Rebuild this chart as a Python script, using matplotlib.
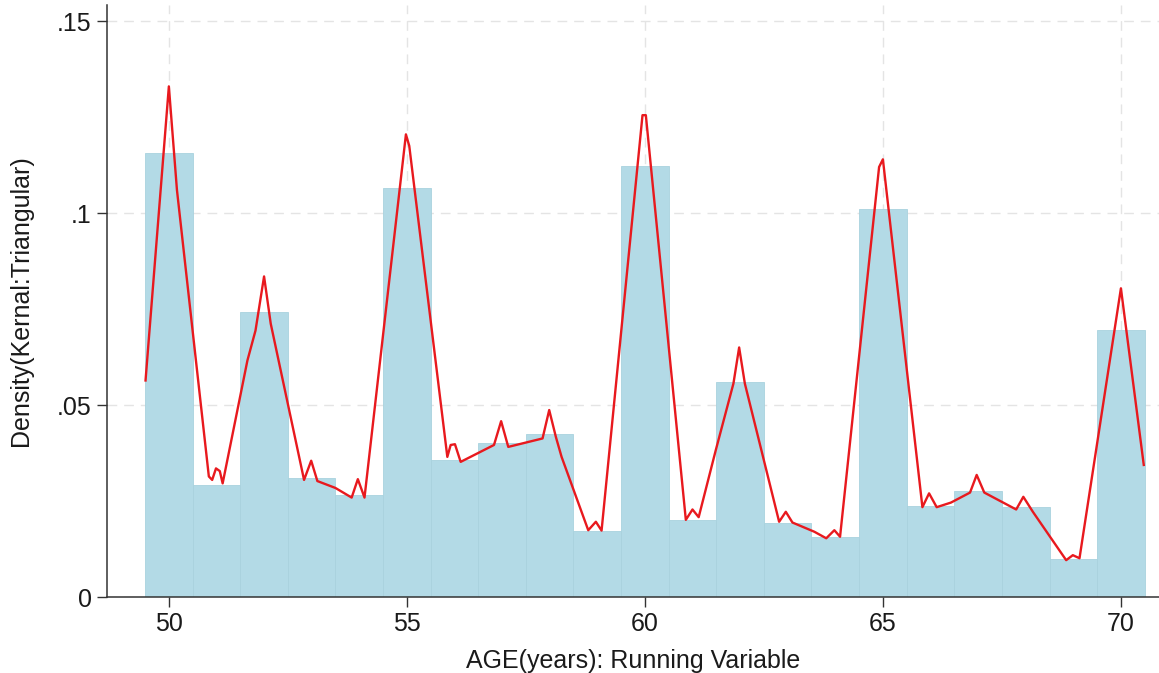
import matplotlib
matplotlib.use('Agg')
import matplotlib.pyplot as plt
from matplotlib.ticker import FixedLocator, FixedFormatter

# Histogram of age (bin width 1, centred on integer ages)
AGES = [50, 51, 52, 53, 54, 55, 56, 57, 58, 59, 60,
        61, 62, 63, 64, 65, 66, 67, 68, 69, 70]
BAR_DENSITY = [0.1157, 0.0293, 0.0743, 0.0309, 0.0266, 0.1066, 0.0357,
               0.0400, 0.0424, 0.0173, 0.1123, 0.0201, 0.0561, 0.0194,
               0.0157, 0.1010, 0.0238, 0.0277, 0.0234, 0.0098, 0.0695]

# Kernel density (triangular) curve, vertices
KDE_X = [49.51, 50.00, 50.17, 50.84, 50.91, 50.99, 51.07, 51.13, 51.65,
         51.82, 52.00, 52.14, 52.84, 52.99, 53.12, 53.50, 53.84, 53.97,
         54.11, 54.98, 55.05, 55.85, 55.92, 56.01, 56.13, 56.83, 56.98,
         57.13, 57.85, 57.99, 58.13, 58.25, 58.81, 58.97, 59.09, 59.95,
         60.02, 60.86, 61.00, 61.13, 61.49, 61.86, 61.98, 62.10, 62.82,
         62.96, 63.10, 63.56, 63.81, 63.98, 64.10, 64.92, 65.00, 65.83,
         65.97, 66.13, 66.43, 66.83, 66.97, 67.13, 67.80, 67.95, 68.15,
         68.85, 68.99, 69.13, 70.00, 70.48]
KDE_Y = [0.0564, 0.1330, 0.1060, 0.0314, 0.0305, 0.0335, 0.0328, 0.0296,
         0.0616, 0.0694, 0.0835, 0.0712, 0.0305, 0.0355, 0.0302, 0.0284,
         0.0259, 0.0307, 0.0259, 0.1205, 0.1175, 0.0365, 0.0396, 0.0398,
         0.0352, 0.0396, 0.0458, 0.0391, 0.0413, 0.0487, 0.0417, 0.0365,
         0.0174, 0.0196, 0.0173, 0.1255, 0.1255, 0.0201, 0.0228, 0.0208,
         0.0383, 0.0556, 0.0650, 0.0556, 0.0196, 0.0222, 0.0194, 0.0170,
         0.0153, 0.0174, 0.0157, 0.1120, 0.1140, 0.0234, 0.0270, 0.0234,
         0.0246, 0.0272, 0.0318, 0.0272, 0.0228, 0.0261, 0.0222, 0.0096,
         0.0109, 0.0101, 0.0804, 0.0344]

X_TICKS = [50, 55, 60, 65, 70]
Y_TICKS = [0, 0.05, 0.10, 0.15]
Y_TICK_LABELS = ['0', '.05', '.1', '.15']

plt.rcParams['font.family'] = ['Liberation Sans', 'DejaVu Sans']
TEXT = '#1a1a1a'

fig = plt.figure(figsize=(11.59, 6.73), dpi=100)
ax = fig.add_axes([0.0923, 0.1129, 0.9077, 0.8797])

ax.bar(AGES, BAR_DENSITY, width=1.0, color='#b3dae6',
       edgecolor='#a9d2de', linewidth=0.6, zorder=2)
ax.plot(KDE_X, KDE_Y, color='#e8191e', linewidth=1.7, zorder=3)

ax.set_xlim(48.7, 70.8)
ax.set_ylim(0, 0.1542)

ax.xaxis.set_major_locator(FixedLocator(X_TICKS))
ax.yaxis.set_major_locator(FixedLocator(Y_TICKS))
ax.yaxis.set_major_formatter(FixedFormatter(Y_TICK_LABELS))

ax.grid(True, color='#e4e4e4', linestyle=(0, (7, 5)), linewidth=1.0, zorder=0)
ax.set_axisbelow(True)

for side in ['top', 'right']:
    ax.spines[side].set_visible(False)
for side in ['left', 'bottom']:
    ax.spines[side].set_color('#333333')
    ax.spines[side].set_linewidth(1.1)

ax.tick_params(axis='both', direction='out', length=7, width=1.0,
               color='#333333', labelsize=18, labelcolor=TEXT, pad=4)

ax.set_xlabel('AGE(years): Running Variable', fontsize=18, color=TEXT, labelpad=9)
ax.set_ylabel('Density(Kernal:Triangular)', fontsize=18, color=TEXT, labelpad=17)

fig.savefig('out.png', dpi=100)
